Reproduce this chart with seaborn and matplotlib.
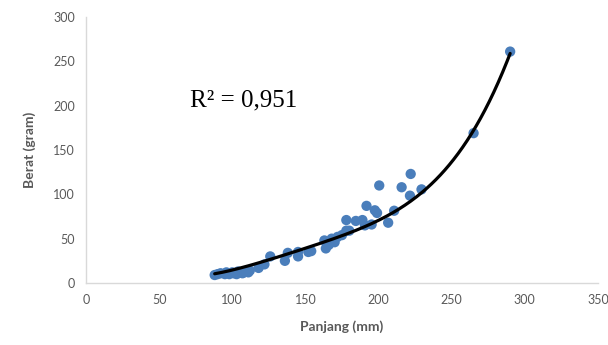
import numpy as np
import matplotlib
matplotlib.use("Agg")
import matplotlib.pyplot as plt
import seaborn as sns

# data (panjang in mm, berat in gram)
panjang = [88, 90, 92, 95, 96, 98, 100, 101, 103, 104, 105, 107, 108, 109, 111, 112,
           118, 122, 126, 136, 138, 145, 145, 152, 154, 163, 164, 166, 168, 170,
           172, 175, 178, 178, 180, 184.5, 189, 190.7, 191.8, 195.3, 197.5, 199,
           200.5, 206.6, 210.7, 215.8, 221.5, 222, 229.4, 265, 290]
berat = [9, 10, 11, 10, 12, 10, 12, 11, 10, 13, 12, 11, 12, 13, 12, 14,
         17, 21, 30, 25, 34, 30, 35, 35, 36, 48, 39, 43, 50, 46,
         52, 54, 71, 59, 59, 70, 71, 65, 87, 66, 82, 79,
         110, 68, 81.5, 108, 98.5, 123, 105.6, 169, 261]

# points read along the drawn trendline
trend_x = [88, 119, 133, 170, 201, 229, 265, 290]
trend_y = [10, 24, 31, 48, 71, 105, 169, 260]

r2_label = "R² = 0,951"
x_ticks = [0, 50, 100, 150, 200, 250, 300, 350]
y_ticks = [0, 50, 100, 150, 200, 250, 300]

sns.set_style("white")
plt.rcParams['font.family'] = ['Lato', 'DejaVu Sans']

fig = plt.figure(figsize=(6.08, 3.45), dpi=100)
ax = fig.add_axes([0.1414, 0.1797, 0.842, 0.771])

sns.scatterplot(x=panjang, y=berat, color="#4a7ebb", s=55, edgecolor="none", ax=ax, zorder=2)

coef = np.polyfit(trend_x, trend_y, 4)
xs = np.linspace(min(panjang), max(panjang), 200)
ax.plot(xs, np.polyval(coef, xs), color="black", lw=2.3, zorder=3)

ax.set_xlim(0, 350)
ax.set_ylim(0, 300)
ax.set_xticks(x_ticks)
ax.set_yticks(y_ticks)
ax.tick_params(axis="both", length=0, labelsize=9, labelcolor="#595959", pad=8)

for s in ["top", "right"]:
    ax.spines[s].set_visible(False)
for s in ["left", "bottom"]:
    ax.spines[s].set_color("#d9d9d9")
    ax.spines[s].set_linewidth(1)

ax.set_xlabel("Panjang (mm)", fontsize=10, fontweight="bold", color="#595959", labelpad=10)
ax.set_ylabel("Berat (gram)", fontsize=10, fontweight="bold", color="#595959", labelpad=12)

ax.text(0.203, 0.665, r2_label, transform=ax.transAxes, fontsize=18,
        family="Liberation Serif", color="black")

fig.savefig("out.png", dpi=100)
